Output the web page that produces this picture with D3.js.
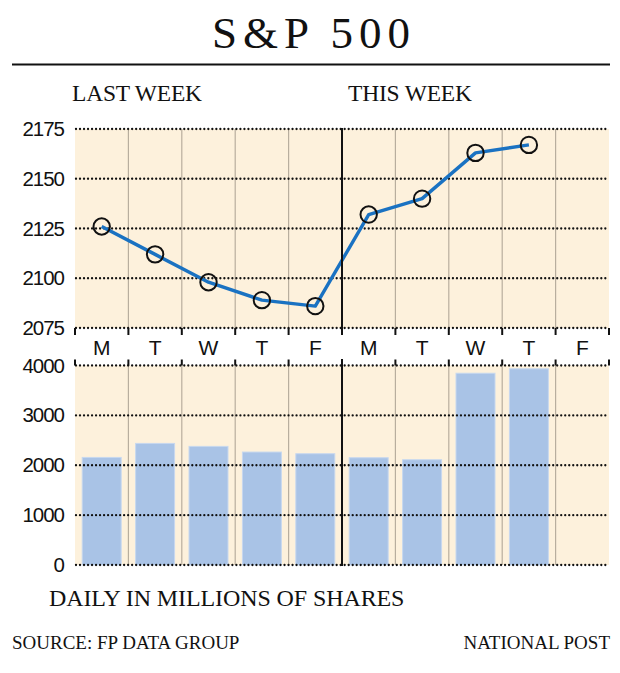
<!DOCTYPE html>
<html>
<head>
<meta charset="utf-8">
<script src="https://cdn.jsdelivr.net/npm/d3@7"></script>
<style>
  body { margin: 0; background: #fff; }
  svg { display: block; }
  .serif { font-family: "Liberation Serif", "DejaVu Serif", serif; fill: #111; }
  .sans { font-family: "Liberation Sans", Arial, sans-serif; fill: #111; }
</style>
</head>
<body>
<script>
// data
var days = ["M", "T", "W", "T", "F", "M", "T", "W", "T", "F"];
var indexValues = [2126, 2112, 2098, 2089, 2086, 2132, 2140, 2163, 2167]; // this Friday not yet
var volumes = [2157, 2438, 2378, 2265, 2231, 2151, 2111, 3845, 3934];
var priceTicks = [2075, 2100, 2125, 2150, 2175];
var volumeTicks = [0, 1000, 2000, 3000, 4000];
var weekLabels = ["LAST WEEK", "THIS WEEK"];

var width = 620, height = 673;
var cream = "#fdf1dc";

var svg = d3.select("body").append("svg")
    .attr("width", width)
    .attr("height", height);

var x = d3.scaleBand()
    .domain(d3.range(days.length))
    .range([75, 609])
    .padding(0);

var yPrice = d3.scaleLinear().domain([2075, 2175]).range([328, 129]);
var yVol = d3.scaleLinear().domain([0, 4000]).range([565, 365.5]);

// title
svg.append("text")
    .attr("class", "serif")
    .attr("x", 314)
    .attr("y", 48)
    .attr("text-anchor", "middle")
    .style("font-size", "45px")
    .style("letter-spacing", "6px")
    .text("S&P 500");

svg.append("line")
    .attr("x1", 12).attr("x2", 610)
    .attr("y1", 64.5).attr("y2", 64.5)
    .attr("stroke", "#111")
    .attr("stroke-width", 2);

// week labels
svg.selectAll(".week")
    .data(weekLabels)
    .enter()
    .append("text")
    .attr("class", "serif week")
    .attr("x", function(d, i) { return i == 0 ? 72 : 348; })
    .attr("y", 101)
    .style("font-size", "23.5px")
    .style("letter-spacing", "-0.2px")
    .text(function(d) { return d; });

function panel(y, ticks) {
    var g = svg.append("g");
    var y0 = y(ticks[ticks.length - 1]), y1 = y(ticks[0]);

    g.append("rect")
        .attr("x", x.range()[0])
        .attr("y", y0)
        .attr("width", x.range()[1] - x.range()[0])
        .attr("height", y1 - y0)
        .attr("fill", cream);

    // grey column lines
    g.selectAll(".col")
        .data(d3.range(1, days.length))
        .enter()
        .append("line")
        .attr("x1", function(d) { return x(d); })
        .attr("x2", function(d) { return x(d); })
        .attr("y1", y0).attr("y2", y1)
        .attr("stroke", "#b8ae9e")
        .attr("stroke-width", 1.2);

    // y axis labels
    g.selectAll(".ylab")
        .data(ticks)
        .enter()
        .append("text")
        .attr("class", "sans")
        .attr("x", 64)
        .attr("y", function(d) { return y(d) + 7; })
        .attr("text-anchor", "end")
        .style("font-size", "20.5px")
        .style("letter-spacing", "-1px")
        .text(function(d) { return d; });

    return g;
}

function dots(g, y, ticks) {
    g.selectAll(".dot")
        .data(ticks)
        .enter()
        .append("line")
        .attr("x1", 76).attr("x2", 607)
        .attr("y1", function(d) { return y(d); })
        .attr("y2", function(d) { return y(d); })
        .attr("stroke", "#111")
        .attr("stroke-width", 2.3)
        .attr("stroke-linecap", "round")
        .attr("stroke-dasharray", "0.01,4");
}

var pricePanel = panel(yPrice, priceTicks);
var volPanel = panel(yVol, volumeTicks);

// volume bars
var barW = x.bandwidth() * 0.73;
volPanel.selectAll(".bar")
    .data(volumes)
    .enter()
    .append("rect")
    .attr("x", function(d, i) { return x(i) + (x.bandwidth() - barW) / 2; })
    .attr("y", function(d) { return yVol(d); })
    .attr("width", barW)
    .attr("height", function(d) { return yVol(0) - yVol(d); })
    .attr("fill", "#a9c3e6")
    .attr("stroke", "#c7d8ef")
    .attr("stroke-width", 1);

dots(pricePanel, yPrice, priceTicks);
dots(volPanel, yVol, volumeTicks);

// week divider
var divX = x(5);
[[yPrice(2175) - 1, 335], [359, yVol(0) + 1]].forEach(function(s) {
    svg.append("line")
        .attr("x1", divX).attr("x2", divX)
        .attr("y1", s[0]).attr("y2", s[1])
        .attr("stroke", "#111")
        .attr("stroke-width", 2);
});

// tick marks between the panels
var bounds = d3.range(days.length + 1).map(function(i) { return i < days.length ? x(i) : x.range()[1]; });
svg.selectAll(".tickDown")
    .data(bounds)
    .enter()
    .append("line")
    .attr("x1", function(d) { return d; }).attr("x2", function(d) { return d; })
    .attr("y1", yPrice(2075)).attr("y2", yPrice(2075) + 7)
    .attr("stroke", "#111").attr("stroke-width", 2);
svg.selectAll(".tickUp")
    .data(bounds)
    .enter()
    .append("line")
    .attr("x1", function(d) { return d; }).attr("x2", function(d) { return d; })
    .attr("y1", yVol(4000) - 6).attr("y2", yVol(4000))
    .attr("stroke", "#111").attr("stroke-width", 2);

// day labels
svg.selectAll(".day")
    .data(days)
    .enter()
    .append("text")
    .attr("class", "sans")
    .attr("x", function(d, i) { return x(i) + x.bandwidth() / 2; })
    .attr("y", 355)
    .attr("text-anchor", "middle")
    .style("font-size", "21px")
    .text(function(d) { return d; });

// index line
var line = d3.line()
    .x(function(d, i) { return x(i) + x.bandwidth() / 2; })
    .y(function(d) { return yPrice(d); });

pricePanel.append("path")
    .datum(indexValues)
    .attr("d", line)
    .attr("fill", "none")
    .attr("stroke", "#1a72c2")
    .attr("stroke-width", 3.4)
    .attr("stroke-linejoin", "round");

pricePanel.selectAll(".pt")
    .data(indexValues)
    .enter()
    .append("circle")
    .attr("cx", function(d, i) { return x(i) + x.bandwidth() / 2; })
    .attr("cy", function(d) { return yPrice(d); })
    .attr("r", 8.2)
    .attr("fill", "none")
    .attr("stroke", "#111")
    .attr("stroke-width", 2);

// footer text
svg.append("text")
    .attr("class", "serif")
    .attr("x", 49)
    .attr("y", 606)
    .style("font-size", "24px")
    .style("letter-spacing", "-0.1px")
    .text("DAILY IN MILLIONS OF SHARES");

svg.append("text")
    .attr("class", "serif")
    .attr("x", 12)
    .attr("y", 649)
    .style("font-size", "19px")
    .text("SOURCE: FP DATA GROUP");

svg.append("text")
    .attr("class", "serif")
    .attr("x", 610)
    .attr("y", 649)
    .attr("text-anchor", "end")
    .style("font-size", "19px")
    .text("NATIONAL POST");
</script>
</body>
</html>
